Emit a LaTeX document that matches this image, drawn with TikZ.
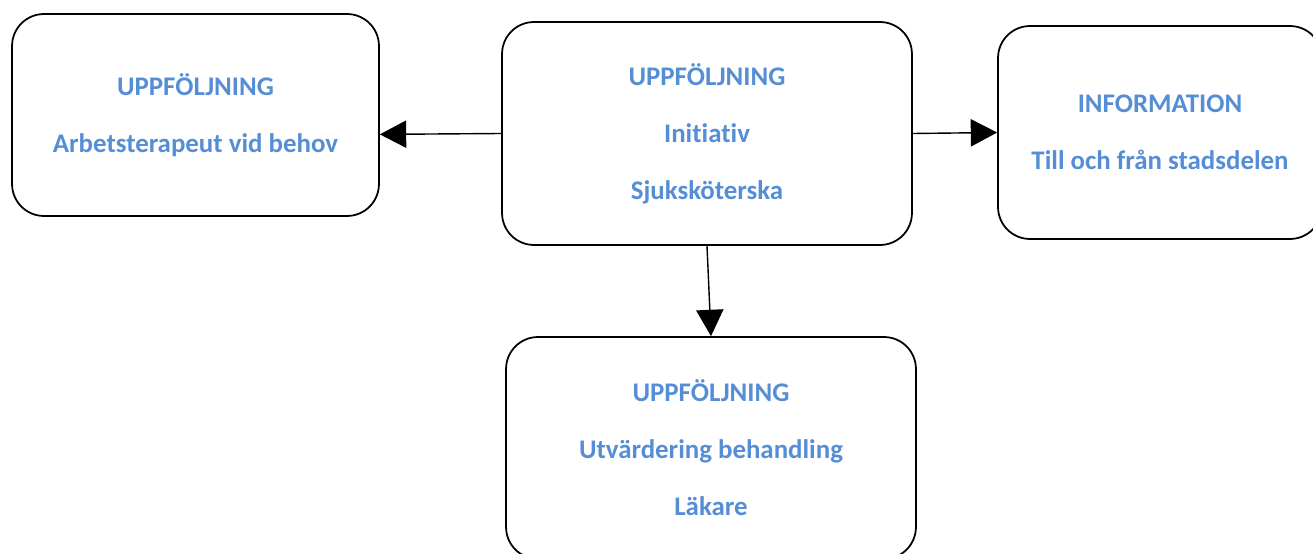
\documentclass[tikz,border=0pt]{standalone}
\usepackage{fontspec}
\setmainfont{Carlito}[Ligatures=NoCommon]
\usetikzlibrary{arrows.meta}
\definecolor{txtblue}{RGB}{85,142,213}
\tikzset{
  box/.style={draw=black, line width=1pt, fill=white, rounded corners=0.64cm,
    inner sep=0pt, align=center, text=txtblue,
    font=\fontsize{15.3}{32.4}\selectfont\bfseries},
  link/.style={line width=0.8pt, -{Triangle[length=15pt, width=15.5pt]}}
}

\begin{document}
\begin{tikzpicture}[x=0.02cm, y=-0.02cm]
        \useasboundingbox (0,0) rectangle (1313,554);
        \node[box, minimum width=7.34cm, minimum height=4.04cm] (lft) at (195.5,115)
          {UPPFÖLJNING\\Arbetsterapeut vid behov};
        \node[box, minimum width=8.2cm, minimum height=4.46cm] (ctr) at (707,133.5)
          {UPPFÖLJNING\\Initiativ\\Sjuksköterska};
        \node[box, minimum width=6.48cm, minimum height=4.26cm] (rgt) at (1160,132.5)
          {INFORMATION\\Till och från stadsdelen};
        \node[box, minimum width=8.2cm, minimum height=4.44cm] (bot) at (711,448)
          {UPPFÖLJNING\\Utvärdering behandling\\Läkare};
        \draw[link] (ctr.west) -- (lft.-6);
        \draw[link] (ctr.east) -- (rgt.west);
        \draw[link] (ctr.south) -- (bot.north);
      \end{tikzpicture}
\end{document}
